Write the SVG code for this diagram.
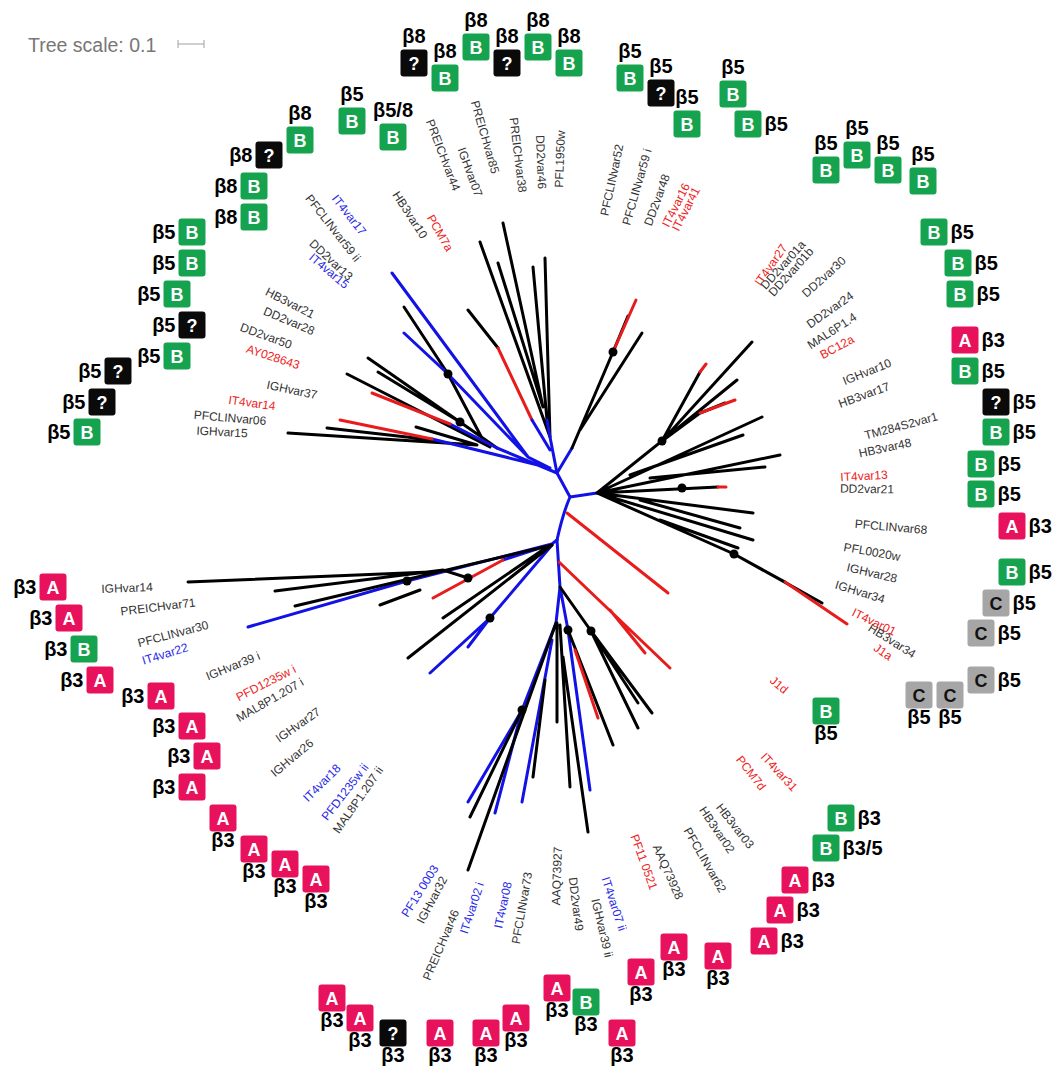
<svg xmlns="http://www.w3.org/2000/svg" width="1057" height="1068" viewBox="0 0 1057 1068">
<style>
.k{stroke:#000;stroke-width:3;fill:none;stroke-linecap:round}
.u{stroke:#1212e6;stroke-width:3;fill:none;stroke-linecap:round}
.r{stroke:#e81c1c;stroke-width:3;fill:none;stroke-linecap:round}
.dot{fill:#000}
.t{font-family:"Liberation Sans",Arial,sans-serif;font-size:12px;fill:#333;text-anchor:middle}
.tr{fill:#ee2222}
.tb{fill:#2a2ae8}
.g{fill:#16a34f}
.p{fill:#e8115c}
.q{fill:#0a0a0a}
.c{fill:#a6a6a6}
.bt{font-family:"Liberation Sans",Arial,sans-serif;font-weight:bold;font-size:18px;fill:#fff;text-anchor:middle}
.ct{fill:#111}
.be{font-family:"Liberation Sans",Arial,sans-serif;font-weight:bold;font-size:20px;fill:#000}
.ab{text-anchor:middle}
.bl{text-anchor:middle}
.lf{text-anchor:end}
.rt{text-anchor:start}
</style>
<rect width="1057" height="1068" fill="#fff"/>
<g id="scale">
<text x="28" y="52" font-family="Liberation Sans, Arial, sans-serif" font-size="19.5" fill="#777">Tree scale: 0.1</text>
<path d="M178 44H204M178 40V48M204 40V48" stroke="#a0a0a0" stroke-width="1" fill="none"/>
</g>
<g id="connectors">
<path class="k" d="M404 307L448 374L483 440M368 358L460 422L497 448M378 372L460 422M347 374L490 447M288 433L477 445M327 428L433 440M416 427L477 445"/>
<path class="u" d="M404 333L448 374L528 457M450 424L497 448M432 439L550 468M392 273L528 457L550 468M497 448L557 473"/>
<path class="r" d="M372 393L450 424M340 420L432 439"/>
<path class="k" d="M480 242L550 437M503 223L543 407M498 263L543 407M533 267L547 420M545 258L550 437M468 310L498 348"/>
<path class="r" d="M498 348L532 420"/>
<path class="u" d="M532 420L550 450M547 420L550 437L557 473"/>
<path class="u" d="M557 473L572 448M570 497L557 473M570 497L597 493M570 497Q563 513 557 540"/>
<path class="k" d="M572 448L613 352L628 316M580 430L642 333"/>
<path class="r" d="M613 352L636 300"/>
<path class="k" d="M597 493L662 441L752 342M662 441L737 380M662 441L700 413L725 403M662 441L700 372M597 493L762 417M630 475L743 435M597 493L780 455M650 478L765 467M597 493L718 487M597 493L753 513M640 500L740 528M597 493L753 540M660 520L738 548M597 493L734 554L822 603M734 554L785 582"/>
<path class="r" d="M700 413L735 400M700 372L706 364M718 487L726 487M785 582L847 624"/>
<path class="u" d="M557 540L552 544L407 581L248 627M503 560L552 544M430 673L490 618L552 545M468 647L490 618"/>
<path class="k" d="M430 572L188 582M275 591L443 570L468 578M295 606L552 545M380 605L420 590M443 618L547 547M408 658L552 545"/>
<path class="r" d="M433 598L503 560"/>
<path class="u" d="M557 540L560 587L556 623L522 710L468 802M522 710L495 813M552 640L522 802M560 587L568 630L590 790"/>
<path class="k" d="M522 710L470 817M556 623L468 870M557 623L557 722M545 680L533 777M560 625L570 787M563 657L588 832M568 630L613 745M560 587L591 631L638 728M591 631L652 713M591 631L638 703"/>
<path class="r" d="M575 650L598 718M559 562L670 668M610 610L645 653M567 513L668 593"/>
<g class="dot">
<circle cx="448" cy="374" r="4.5"/><circle cx="460" cy="422" r="4.5"/><circle cx="407" cy="581" r="4.5"/><circle cx="468" cy="578" r="4.5"/><circle cx="490" cy="618" r="4.5"/><circle cx="522" cy="710" r="4.5"/><circle cx="568" cy="630" r="4.5"/><circle cx="591" cy="631" r="4.5"/><circle cx="613" cy="352" r="4.5"/><circle cx="662" cy="441" r="4.5"/><circle cx="682" cy="488" r="4.5"/><circle cx="734" cy="554" r="4.5"/>
</g>
</g>
<g id="leaf-labels">
<text class="t tb" transform="translate(349,215) rotate(52)" dy="4">IT4var17</text>
<text class="t" transform="translate(333,228) rotate(52)" dy="4">PFCLINvar59 ii</text>
<text class="t" transform="translate(331,260) rotate(43)" dy="4">DD2var13</text>
<text class="t tb" transform="translate(329,271) rotate(40)" dy="4">IT4var15</text>
<text class="t" transform="translate(410,215) rotate(57)" dy="4">HB3var10</text>
<text class="t tr" transform="translate(440,233) rotate(60)" dy="4">PCM7a</text>
<text class="t" transform="translate(443,155) rotate(69)" dy="4">PREICHvar44</text>
<text class="t" transform="translate(470,172) rotate(70)" dy="4">IGHvar07</text>
<text class="t" transform="translate(485,137) rotate(74)" dy="4">PREICHvar85</text>
<text class="t" transform="translate(518,155) rotate(83)" dy="4">PREICHvar38</text>
<text class="t" transform="translate(541,162) rotate(88)" dy="4">DD2var46</text>
<text class="t" transform="translate(560,159) rotate(-88)" dy="4">PFL1950w</text>
<text class="t" transform="translate(612,180) rotate(-78)" dy="4">PFCLINvar52</text>
<text class="t" transform="translate(637,187) rotate(-74)" dy="4">PFCLINvar59 i</text>
<text class="t" transform="translate(657,200) rotate(-70)" dy="4">DD2var48</text>
<text class="t tr" transform="translate(676,205) rotate(-63)" dy="4">IT4var16</text>
<text class="t tr" transform="translate(686,209) rotate(-63)" dy="4">IT4var41</text>
<text class="t tr" transform="translate(771,265) rotate(-55)" dy="4">IT4var27</text>
<text class="t" transform="translate(783,265) rotate(-48)" dy="4">DD2var01a</text>
<text class="t" transform="translate(791,272) rotate(-48)" dy="4">DD2var01b</text>
<text class="t" transform="translate(824,277) rotate(-42)" dy="4">DD2var30</text>
<text class="t" transform="translate(830,310) rotate(-35)" dy="4">DD2var24</text>
<text class="t" transform="translate(832,331) rotate(-33)" dy="4">MAL6P1.4</text>
<text class="t tr" transform="translate(837,347) rotate(-28)" dy="4">BC12a</text>
<text class="t" transform="translate(867,372) rotate(-22)" dy="4">IGHvar10</text>
<text class="t" transform="translate(864,395) rotate(-20)" dy="4">HB3var17</text>
<text class="t" transform="translate(901,426) rotate(-15)" dy="4">TM284S2var1</text>
<text class="t" transform="translate(885,448) rotate(-12)" dy="4">HB3var48</text>
<text class="t tr" transform="translate(864,476) rotate(-3)" dy="4">IT4var13</text>
<text class="t" transform="translate(867,489) rotate(1)" dy="4">DD2var21</text>
<text class="t" transform="translate(891,527) rotate(5)" dy="4">PFCLINvar68</text>
<text class="t" transform="translate(872,552) rotate(10)" dy="4">PFL0020w</text>
<text class="t" transform="translate(872,573) rotate(13)" dy="4">IGHvar28</text>
<text class="t" transform="translate(860,592) rotate(17)" dy="4">IGHvar34</text>
<text class="t tr" transform="translate(874,622) rotate(26)" dy="4">IT4var01</text>
<text class="t" transform="translate(892,641) rotate(32)" dy="4">HB3var34</text>
<text class="t tr" transform="translate(883,652) rotate(35)" dy="4">J1a</text>
<text class="t tr" transform="translate(779,685) rotate(40)" dy="4">J1d</text>
<text class="t tr" transform="translate(779,772) rotate(47)" dy="4">IT4var31</text>
<text class="t tr" transform="translate(751,773) rotate(52)" dy="4">PCM7d</text>
<text class="t" transform="translate(735,826) rotate(52)" dy="4">HB3var03</text>
<text class="t" transform="translate(717,830) rotate(56)" dy="4">HB3var02</text>
<text class="t" transform="translate(705,860) rotate(60)" dy="4">PFCLINvar62</text>
<text class="t" transform="translate(668,872) rotate(66)" dy="4">AAQ73928</text>
<text class="t tr" transform="translate(644,862) rotate(70)" dy="4">PF11 0521</text>
<text class="t tb" transform="translate(614,904) rotate(72)" dy="4">IT4var07 ii</text>
<text class="t" transform="translate(602,928) rotate(77)" dy="4">IGHvar39 ii</text>
<text class="t" transform="translate(576,904) rotate(83)" dy="4">DD2var49</text>
<text class="t" transform="translate(557,876) rotate(-88)" dy="4">AAQ73927</text>
<text class="t" transform="translate(522,908) rotate(-80)" dy="4">PFCLINvar73</text>
<text class="t tb" transform="translate(503,905) rotate(-78)" dy="4">IT4var08</text>
<text class="t tb" transform="translate(472,908) rotate(-72)" dy="4">IT4var02 i</text>
<text class="t" transform="translate(441,945) rotate(-67)" dy="4">PREICHvar46</text>
<text class="t" transform="translate(432,900) rotate(-62)" dy="4">IGHvar32</text>
<text class="t tb" transform="translate(420,891) rotate(-58)" dy="4">PF13 0003</text>
<text class="t" transform="translate(358,800) rotate(-55)" dy="4">MAL8P1.207 ii</text>
<text class="t tb" transform="translate(345,792) rotate(-52)" dy="4">PFD1235w ii</text>
<text class="t tb" transform="translate(322,783) rotate(-45)" dy="4">IT4var18</text>
<text class="t" transform="translate(292,758) rotate(-40)" dy="4">IGHvar26</text>
<text class="t" transform="translate(298,725) rotate(-35)" dy="4">IGHvar27</text>
<text class="t" transform="translate(270,700) rotate(-30)" dy="4">MAL8P1.207 i</text>
<text class="t tr" transform="translate(266,683) rotate(-27)" dy="4">PFD1235w i</text>
<text class="t" transform="translate(233,666) rotate(-22)" dy="4">IGHvar39 i</text>
<text class="t tb" transform="translate(165,654) rotate(-17)" dy="4">IT4var22</text>
<text class="t" transform="translate(173,634) rotate(-15)" dy="4">PFCLINvar30</text>
<text class="t" transform="translate(158,607) rotate(-7)" dy="4">PREICHvar71</text>
<text class="t" transform="translate(127,588) rotate(-2)" dy="4">IGHvar14</text>
<text class="t" transform="translate(222,432) rotate(3)" dy="4">IGHvar15</text>
<text class="t" transform="translate(230,418) rotate(5)" dy="4">PFCLINvar06</text>
<text class="t tr" transform="translate(252,403) rotate(8)" dy="4">IT4var14</text>
<text class="t" transform="translate(292,390) rotate(12)" dy="4">IGHvar37</text>
<text class="t tr" transform="translate(273,357) rotate(18)" dy="4">AY028643</text>
<text class="t" transform="translate(266,336) rotate(20)" dy="4">DD2var50</text>
<text class="t" transform="translate(289,321) rotate(23)" dy="4">DD2var28</text>
<text class="t" transform="translate(290,303) rotate(27)" dy="4">HB3var21</text>
</g>
<g id="badges">
<g id="n1" transform="translate(300,140)"><rect class="g" x="-13.5" y="-13.5" width="27" height="27" rx="3"/><text class="bt" y="6.5">B</text><text class="be ab" y="-20.5">β8</text></g>
<g id="n2" transform="translate(269,155)"><rect class="q" x="-13.5" y="-13.5" width="27" height="27" rx="3"/><text class="bt" y="6.5">?</text><text class="be lf" x="-16.5" y="7">β8</text></g>
<g id="n3" transform="translate(254,186)"><rect class="g" x="-13.5" y="-13.5" width="27" height="27" rx="3"/><text class="bt" y="6.5">B</text><text class="be lf" x="-16.5" y="7">β8</text></g>
<g id="n4" transform="translate(254,217)"><rect class="g" x="-13.5" y="-13.5" width="27" height="27" rx="3"/><text class="bt" y="6.5">B</text><text class="be lf" x="-16.5" y="7">β8</text></g>
<g id="n5" transform="translate(192,232)"><rect class="g" x="-13.5" y="-13.5" width="27" height="27" rx="3"/><text class="bt" y="6.5">B</text><text class="be lf" x="-16.5" y="7">β5</text></g>
<g id="n6" transform="translate(192,263)"><rect class="g" x="-13.5" y="-13.5" width="27" height="27" rx="3"/><text class="bt" y="6.5">B</text><text class="be lf" x="-16.5" y="7">β5</text></g>
<g id="n7" transform="translate(177,294)"><rect class="g" x="-13.5" y="-13.5" width="27" height="27" rx="3"/><text class="bt" y="6.5">B</text><text class="be lf" x="-16.5" y="7">β5</text></g>
<g id="n8" transform="translate(192,325)"><rect class="q" x="-13.5" y="-13.5" width="27" height="27" rx="3"/><text class="bt" y="6.5">?</text><text class="be lf" x="-16.5" y="7">β5</text></g>
<g id="n9" transform="translate(177,356)"><rect class="g" x="-13.5" y="-13.5" width="27" height="27" rx="3"/><text class="bt" y="6.5">B</text><text class="be lf" x="-16.5" y="7">β5</text></g>
<g id="n10" transform="translate(118,371)"><rect class="q" x="-13.5" y="-13.5" width="27" height="27" rx="3"/><text class="bt" y="6.5">?</text><text class="be lf" x="-16.5" y="7">β5</text></g>
<g id="n11" transform="translate(102,402)"><rect class="q" x="-13.5" y="-13.5" width="27" height="27" rx="3"/><text class="bt" y="6.5">?</text><text class="be lf" x="-16.5" y="7">β5</text></g>
<g id="n12" transform="translate(87,432)"><rect class="g" x="-13.5" y="-13.5" width="27" height="27" rx="3"/><text class="bt" y="6.5">B</text><text class="be lf" x="-16.5" y="7">β5</text></g>
<g id="n13" transform="translate(352,121)"><rect class="g" x="-13.5" y="-13.5" width="27" height="27" rx="3"/><text class="bt" y="6.5">B</text><text class="be ab" y="-20.5">β5</text></g>
<g id="n14" transform="translate(393,137)"><rect class="g" x="-13.5" y="-13.5" width="27" height="27" rx="3"/><text class="bt" y="6.5">B</text><text class="be ab" y="-20.5">β5/8</text></g>
<g id="n15" transform="translate(414,63)"><rect class="q" x="-13.5" y="-13.5" width="27" height="27" rx="3"/><text class="bt" y="6.5">?</text><text class="be ab" y="-20.5">β8</text></g>
<g id="n16" transform="translate(445,78)"><rect class="g" x="-13.5" y="-13.5" width="27" height="27" rx="3"/><text class="bt" y="6.5">B</text><text class="be ab" y="-20.5">β8</text></g>
<g id="n17" transform="translate(476,47)"><rect class="g" x="-13.5" y="-13.5" width="27" height="27" rx="3"/><text class="bt" y="6.5">B</text><text class="be ab" y="-20.5">β8</text></g>
<g id="n18" transform="translate(507,63)"><rect class="q" x="-13.5" y="-13.5" width="27" height="27" rx="3"/><text class="bt" y="6.5">?</text><text class="be ab" y="-20.5">β8</text></g>
<g id="n19" transform="translate(538,47)"><rect class="g" x="-13.5" y="-13.5" width="27" height="27" rx="3"/><text class="bt" y="6.5">B</text><text class="be ab" y="-20.5">β8</text></g>
<g id="n20" transform="translate(569,63)"><rect class="g" x="-13.5" y="-13.5" width="27" height="27" rx="3"/><text class="bt" y="6.5">B</text><text class="be ab" y="-20.5">β8</text></g>
<g id="n21" transform="translate(630,78)"><rect class="g" x="-13.5" y="-13.5" width="27" height="27" rx="3"/><text class="bt" y="6.5">B</text><text class="be ab" y="-20.5">β5</text></g>
<g id="n22" transform="translate(661,93)"><rect class="q" x="-13.5" y="-13.5" width="27" height="27" rx="3"/><text class="bt" y="6.5">?</text><text class="be ab" y="-20.5">β5</text></g>
<g id="n23" transform="translate(687,124)"><rect class="g" x="-13.5" y="-13.5" width="27" height="27" rx="3"/><text class="bt" y="6.5">B</text><text class="be ab" y="-20.5">β5</text></g>
<g id="n24" transform="translate(733,94)"><rect class="g" x="-13.5" y="-13.5" width="27" height="27" rx="3"/><text class="bt" y="6.5">B</text><text class="be ab" y="-20.5">β5</text></g>
<g id="n25" transform="translate(748,124)"><rect class="g" x="-13.5" y="-13.5" width="27" height="27" rx="3"/><text class="bt" y="6.5">B</text><text class="be rt" x="16.5" y="7">β5</text></g>
<g id="n26" transform="translate(826,170)"><rect class="g" x="-13.5" y="-13.5" width="27" height="27" rx="3"/><text class="bt" y="6.5">B</text><text class="be ab" y="-20.5">β5</text></g>
<g id="n27" transform="translate(857,155)"><rect class="g" x="-13.5" y="-13.5" width="27" height="27" rx="3"/><text class="bt" y="6.5">B</text><text class="be ab" y="-20.5">β5</text></g>
<g id="n28" transform="translate(888,170)"><rect class="g" x="-13.5" y="-13.5" width="27" height="27" rx="3"/><text class="bt" y="6.5">B</text><text class="be ab" y="-20.5">β5</text></g>
<g id="n29" transform="translate(923,181)"><rect class="g" x="-13.5" y="-13.5" width="27" height="27" rx="3"/><text class="bt" y="6.5">B</text><text class="be ab" y="-20.5">β5</text></g>
<g id="n30" transform="translate(934,232)"><rect class="g" x="-13.5" y="-13.5" width="27" height="27" rx="3"/><text class="bt" y="6.5">B</text><text class="be rt" x="16.5" y="7">β5</text></g>
<g id="n31" transform="translate(958,263)"><rect class="g" x="-13.5" y="-13.5" width="27" height="27" rx="3"/><text class="bt" y="6.5">B</text><text class="be rt" x="16.5" y="7">β5</text></g>
<g id="n32" transform="translate(960,294)"><rect class="g" x="-13.5" y="-13.5" width="27" height="27" rx="3"/><text class="bt" y="6.5">B</text><text class="be rt" x="16.5" y="7">β5</text></g>
<g id="n33" transform="translate(965,340)"><rect class="p" x="-13.5" y="-13.5" width="27" height="27" rx="3"/><text class="bt" y="6.5">A</text><text class="be rt" x="16.5" y="7">β3</text></g>
<g id="n34" transform="translate(965,371)"><rect class="g" x="-13.5" y="-13.5" width="27" height="27" rx="3"/><text class="bt" y="6.5">B</text><text class="be rt" x="16.5" y="7">β5</text></g>
<g id="n35" transform="translate(996,402)"><rect class="q" x="-13.5" y="-13.5" width="27" height="27" rx="3"/><text class="bt" y="6.5">?</text><text class="be rt" x="16.5" y="7">β5</text></g>
<g id="n36" transform="translate(996,432)"><rect class="g" x="-13.5" y="-13.5" width="27" height="27" rx="3"/><text class="bt" y="6.5">B</text><text class="be rt" x="16.5" y="7">β5</text></g>
<g id="n37" transform="translate(981,464)"><rect class="g" x="-13.5" y="-13.5" width="27" height="27" rx="3"/><text class="bt" y="6.5">B</text><text class="be rt" x="16.5" y="7">β5</text></g>
<g id="n38" transform="translate(981,494)"><rect class="g" x="-13.5" y="-13.5" width="27" height="27" rx="3"/><text class="bt" y="6.5">B</text><text class="be rt" x="16.5" y="7">β5</text></g>
<g id="n39" transform="translate(1012,526)"><rect class="p" x="-13.5" y="-13.5" width="27" height="27" rx="3"/><text class="bt" y="6.5">A</text><text class="be rt" x="16.5" y="7">β3</text></g>
<g id="n40" transform="translate(1012,572)"><rect class="g" x="-13.5" y="-13.5" width="27" height="27" rx="3"/><text class="bt" y="6.5">B</text><text class="be rt" x="16.5" y="7">β5</text></g>
<g id="n41" transform="translate(996,603)"><rect class="c" x="-13.5" y="-13.5" width="27" height="27" rx="3"/><text class="bt ct" y="6.5">C</text><text class="be rt" x="16.5" y="7">β5</text></g>
<g id="n42" transform="translate(981,633)"><rect class="c" x="-13.5" y="-13.5" width="27" height="27" rx="3"/><text class="bt ct" y="6.5">C</text><text class="be rt" x="16.5" y="7">β5</text></g>
<g id="n43" transform="translate(981,680)"><rect class="c" x="-13.5" y="-13.5" width="27" height="27" rx="3"/><text class="bt ct" y="6.5">C</text><text class="be rt" x="16.5" y="7">β5</text></g>
<g id="n44" transform="translate(919,695)"><rect class="c" x="-13.5" y="-13.5" width="27" height="27" rx="3"/><text class="bt ct" y="6.5">C</text><text class="be bl" y="28.5">β5</text></g>
<g id="n45" transform="translate(950,695)"><rect class="c" x="-13.5" y="-13.5" width="27" height="27" rx="3"/><text class="bt ct" y="6.5">C</text><text class="be bl" y="28.5">β5</text></g>
<g id="n46" transform="translate(826,711)"><rect class="g" x="-13.5" y="-13.5" width="27" height="27" rx="3"/><text class="bt" y="6.5">B</text><text class="be bl" y="28.5">β5</text></g>
<g id="n47" transform="translate(841,818)"><rect class="g" x="-13.5" y="-13.5" width="27" height="27" rx="3"/><text class="bt" y="6.5">B</text><text class="be rt" x="16.5" y="7">β3</text></g>
<g id="n48" transform="translate(826,848)"><rect class="g" x="-13.5" y="-13.5" width="27" height="27" rx="3"/><text class="bt" y="6.5">B</text><text class="be rt" x="16.5" y="7">β3/5</text></g>
<g id="n49" transform="translate(795,880)"><rect class="p" x="-13.5" y="-13.5" width="27" height="27" rx="3"/><text class="bt" y="6.5">A</text><text class="be rt" x="16.5" y="7">β3</text></g>
<g id="n50" transform="translate(780,910)"><rect class="p" x="-13.5" y="-13.5" width="27" height="27" rx="3"/><text class="bt" y="6.5">A</text><text class="be rt" x="16.5" y="7">β3</text></g>
<g id="n51" transform="translate(764,941)"><rect class="p" x="-13.5" y="-13.5" width="27" height="27" rx="3"/><text class="bt" y="6.5">A</text><text class="be rt" x="16.5" y="7">β3</text></g>
<g id="n52" transform="translate(718,956)"><rect class="p" x="-13.5" y="-13.5" width="27" height="27" rx="3"/><text class="bt" y="6.5">A</text><text class="be bl" y="28.5">β3</text></g>
<g id="n53" transform="translate(674,947)"><rect class="p" x="-13.5" y="-13.5" width="27" height="27" rx="3"/><text class="bt" y="6.5">A</text><text class="be bl" y="28.5">β3</text></g>
<g id="n54" transform="translate(641,972)"><rect class="p" x="-13.5" y="-13.5" width="27" height="27" rx="3"/><text class="bt" y="6.5">A</text><text class="be bl" y="28.5">β3</text></g>
<g id="n55" transform="translate(622,1033)"><rect class="p" x="-13.5" y="-13.5" width="27" height="27" rx="3"/><text class="bt" y="6.5">A</text><text class="be bl" y="28.5">β3</text></g>
<g id="n56" transform="translate(586,1002)"><rect class="g" x="-13.5" y="-13.5" width="27" height="27" rx="3"/><text class="bt" y="6.5">B</text><text class="be bl" y="28.5">β3</text></g>
<g id="n57" transform="translate(557,988)"><rect class="p" x="-13.5" y="-13.5" width="27" height="27" rx="3"/><text class="bt" y="6.5">A</text><text class="be bl" y="28.5">β3</text></g>
<g id="n58" transform="translate(516,1018)"><rect class="p" x="-13.5" y="-13.5" width="27" height="27" rx="3"/><text class="bt" y="6.5">A</text><text class="be bl" y="28.5">β3</text></g>
<g id="n59" transform="translate(486,1033)"><rect class="p" x="-13.5" y="-13.5" width="27" height="27" rx="3"/><text class="bt" y="6.5">A</text><text class="be bl" y="28.5">β3</text></g>
<g id="n60" transform="translate(440,1033)"><rect class="p" x="-13.5" y="-13.5" width="27" height="27" rx="3"/><text class="bt" y="6.5">A</text><text class="be bl" y="28.5">β3</text></g>
<g id="n61" transform="translate(393,1033)"><rect class="q" x="-13.5" y="-13.5" width="27" height="27" rx="3"/><text class="bt" y="6.5">?</text><text class="be bl" y="28.5">β3</text></g>
<g id="n62" transform="translate(360,1018)"><rect class="p" x="-13.5" y="-13.5" width="27" height="27" rx="3"/><text class="bt" y="6.5">A</text><text class="be bl" y="28.5">β3</text></g>
<g id="n63" transform="translate(332,998)"><rect class="p" x="-13.5" y="-13.5" width="27" height="27" rx="3"/><text class="bt" y="6.5">A</text><text class="be bl" y="28.5">β3</text></g>
<g id="n64" transform="translate(316,879)"><rect class="p" x="-13.5" y="-13.5" width="27" height="27" rx="3"/><text class="bt" y="6.5">A</text><text class="be bl" y="28.5">β3</text></g>
<g id="n65" transform="translate(285,864)"><rect class="p" x="-13.5" y="-13.5" width="27" height="27" rx="3"/><text class="bt" y="6.5">A</text><text class="be bl" y="28.5">β3</text></g>
<g id="n66" transform="translate(254,849)"><rect class="p" x="-13.5" y="-13.5" width="27" height="27" rx="3"/><text class="bt" y="6.5">A</text><text class="be bl" y="28.5">β3</text></g>
<g id="n67" transform="translate(223,818)"><rect class="p" x="-13.5" y="-13.5" width="27" height="27" rx="3"/><text class="bt" y="6.5">A</text><text class="be bl" y="28.5">β3</text></g>
<g id="n68" transform="translate(192,787)"><rect class="p" x="-13.5" y="-13.5" width="27" height="27" rx="3"/><text class="bt" y="6.5">A</text><text class="be lf" x="-16.5" y="7">β3</text></g>
<g id="n69" transform="translate(207,756)"><rect class="p" x="-13.5" y="-13.5" width="27" height="27" rx="3"/><text class="bt" y="6.5">A</text><text class="be lf" x="-16.5" y="7">β3</text></g>
<g id="n70" transform="translate(192,726)"><rect class="p" x="-13.5" y="-13.5" width="27" height="27" rx="3"/><text class="bt" y="6.5">A</text><text class="be lf" x="-16.5" y="7">β3</text></g>
<g id="n71" transform="translate(161,696)"><rect class="p" x="-13.5" y="-13.5" width="27" height="27" rx="3"/><text class="bt" y="6.5">A</text><text class="be lf" x="-16.5" y="7">β3</text></g>
<g id="n72" transform="translate(100,680)"><rect class="p" x="-13.5" y="-13.5" width="27" height="27" rx="3"/><text class="bt" y="6.5">A</text><text class="be lf" x="-16.5" y="7">β3</text></g>
<g id="n73" transform="translate(84,649)"><rect class="g" x="-13.5" y="-13.5" width="27" height="27" rx="3"/><text class="bt" y="6.5">B</text><text class="be lf" x="-16.5" y="7">β3</text></g>
<g id="n74" transform="translate(69,618)"><rect class="p" x="-13.5" y="-13.5" width="27" height="27" rx="3"/><text class="bt" y="6.5">A</text><text class="be lf" x="-16.5" y="7">β3</text></g>
<g id="n75" transform="translate(53,587)"><rect class="p" x="-13.5" y="-13.5" width="27" height="27" rx="3"/><text class="bt" y="6.5">A</text><text class="be lf" x="-16.5" y="7">β3</text></g>
</g>
</svg>
